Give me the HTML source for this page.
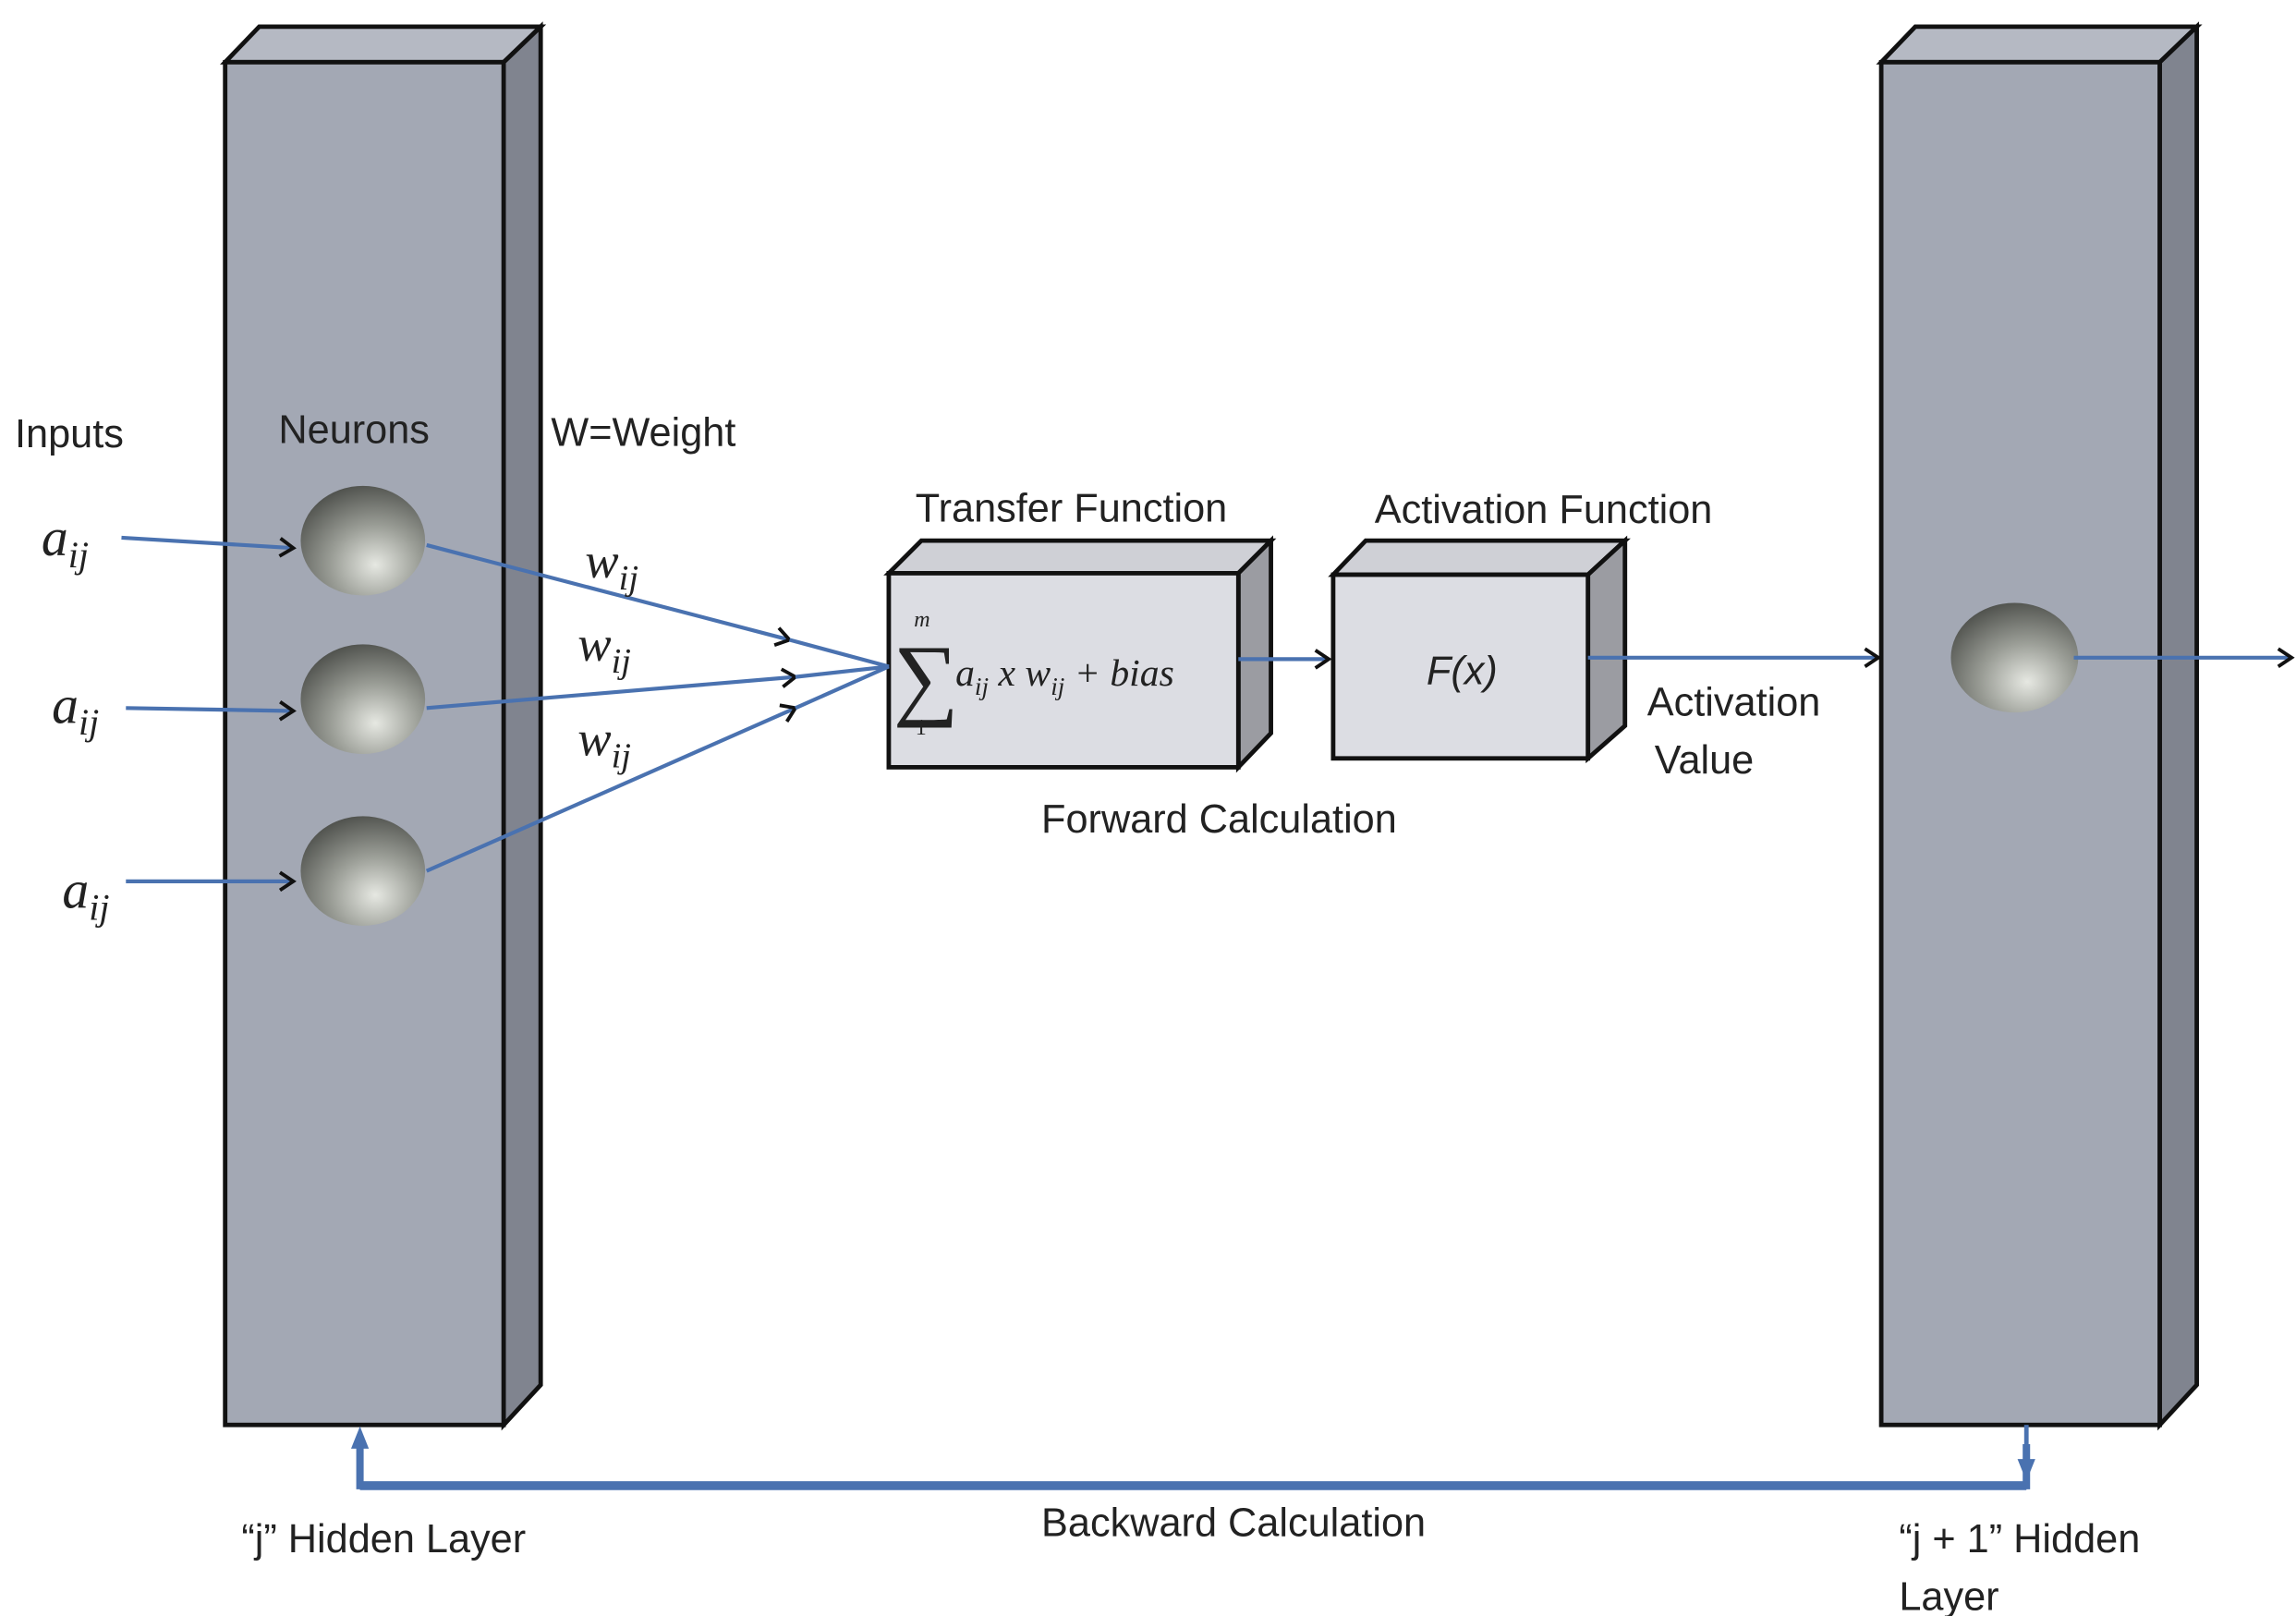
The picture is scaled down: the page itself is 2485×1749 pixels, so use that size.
<!DOCTYPE html>
<html><head><meta charset="utf-8"><style>
html,body{margin:0;padding:0;background:#fff;}
svg{display:block;}
text{font-family:"Liberation Sans",sans-serif;fill:#222;}
.m{font-family:"Liberation Serif",serif;font-style:italic;}
</style></head><body>
<svg width="2485" height="1749" viewBox="0 0 1550 1091" preserveAspectRatio="none" xmlns="http://www.w3.org/2000/svg">
<defs>
<radialGradient id="g" cx="0.6" cy="0.72" r="0.8">
<stop offset="0" stop-color="#e6e8e2"/><stop offset="0.45" stop-color="#9a9d96"/><stop offset="1" stop-color="#454743"/>
</radialGradient>
<marker id="ah" markerWidth="14" markerHeight="14" refX="11" refY="7" orient="auto" markerUnits="userSpaceOnUse">
<path d="M2,1 L11,7 L2,13" fill="none" stroke="#111" stroke-width="2.4"/>
</marker>
</defs>
<polygon points="152,42 175,18 365,18 340,42" fill="#b5b9c3" stroke="#111" stroke-width="3"/>
<polygon points="340,42 365,18 365,935 340,962" fill="#80848f" stroke="#111" stroke-width="3"/>
<rect x="152" y="42" width="188" height="920" fill="#a3a8b4" stroke="#111" stroke-width="3"/>
<polygon points="1270,42 1293,18 1483,18 1458,42" fill="#b5b9c3" stroke="#111" stroke-width="3"/>
<polygon points="1458,42 1483,18 1483,935 1458,962" fill="#80848f" stroke="#111" stroke-width="3"/>
<rect x="1270" y="42" width="188" height="920" fill="#a3a8b4" stroke="#111" stroke-width="3"/>
<polygon points="600,387 622,365 858,365 836,387" fill="#cfd0d6" stroke="#111" stroke-width="3"/>
<polygon points="836,387 858,365 858,495 836,518" fill="#9b9ca2" stroke="#111" stroke-width="3"/>
<rect x="600" y="387" width="236" height="131" fill="#dcdde3" stroke="#111" stroke-width="3"/>
<polygon points="900,388 922,365 1097,365 1072,388" fill="#cfd0d6" stroke="#111" stroke-width="3"/>
<polygon points="1072,388 1097,365 1097,490 1072,512" fill="#9b9ca2" stroke="#111" stroke-width="3"/>
<rect x="900" y="388" width="172" height="124" fill="#dcdde3" stroke="#111" stroke-width="3"/>
<ellipse cx="245" cy="365" rx="42" ry="37" fill="url(#g)"/>
<ellipse cx="245" cy="472" rx="42" ry="37" fill="url(#g)"/>
<ellipse cx="245" cy="588" rx="42" ry="37" fill="url(#g)"/>
<ellipse cx="1360" cy="444" rx="43" ry="37" fill="url(#g)"/>
<g stroke="#4a72b0" stroke-width="2.6" fill="none">
<line x1="82" y1="363" x2="198" y2="370" marker-end="url(#ah)"/>
<line x1="85" y1="478" x2="198" y2="480" marker-end="url(#ah)"/>
<line x1="85" y1="595" x2="198" y2="595" marker-end="url(#ah)"/>
<line x1="288" y1="368" x2="533" y2="432" marker-end="url(#ah)"/>
<line x1="288" y1="478" x2="537" y2="457" marker-end="url(#ah)"/>
<line x1="288" y1="588" x2="537" y2="478" marker-end="url(#ah)"/>
<polyline points="533,432 600,450 537,457"/>
<line x1="537" y1="478" x2="600" y2="450"/>
<line x1="836" y1="445" x2="897" y2="445" marker-end="url(#ah)"/>
<line x1="1072" y1="444" x2="1268" y2="444" marker-end="url(#ah)"/>
<line x1="1400" y1="444" x2="1547" y2="444" marker-end="url(#ah)"/>
</g>
<g stroke="#4a72b0" fill="#4a72b0">
<polyline points="243,975 243,1003 1368,1003 1368,975" fill="none" stroke-width="5"/>
<polyline points="243,1003 1368,1003" fill="none" stroke-width="6"/>
<polygon points="243,963 237,978 249,978" stroke="none"/>
<polygon points="1368,1000 1362,985 1374,985" stroke="none"/>
<line x1="1368" y1="962" x2="1368" y2="988" stroke-width="3"/>
</g>
<text x="10" y="302" font-size="27">Inputs</text>
<text x="188" y="299" font-size="27">Neurons</text>
<text x="372" y="301" font-size="27">W=Weight</text>
<text class="m" x="28" y="375" font-size="36">a<tspan font-size="25" dy="8">ij</tspan></text>
<text class="m" x="35" y="488" font-size="36">a<tspan font-size="25" dy="8">ij</tspan></text>
<text class="m" x="42" y="613" font-size="36">a<tspan font-size="25" dy="8">ij</tspan></text>
<text class="m" x="395" y="390" font-size="34">w<tspan font-size="24" dy="8">ij</tspan></text>
<text class="m" x="390" y="446" font-size="34">w<tspan font-size="24" dy="8">ij</tspan></text>
<text class="m" x="390" y="510" font-size="34">w<tspan font-size="24" dy="8">ij</tspan></text>
<text x="618" y="352" font-size="27">Transfer Function</text>
<text x="928" y="353" font-size="27">Activation Function</text>
<text class="m" x="617" y="423" font-size="15">m</text>
<text x="603" y="478" font-size="62" style="font-family:'Liberation Serif',serif">∑</text>
<text x="618" y="496" font-size="15" style="font-family:'Liberation Serif',serif">1</text>
<text class="m" x="645" y="463" font-size="26">a<tspan font-size="17" dy="6">ij</tspan><tspan dy="-6"> x w</tspan><tspan font-size="17" dy="6">ij</tspan><tspan dy="-6">  + bias</tspan></text>
<text x="963" y="462" font-size="27" font-style="italic">F(x)</text>
<text x="1112" y="483" font-size="27">Activation</text>
<text x="1117" y="522" font-size="27">Value</text>
<text x="703" y="562" font-size="27">Forward Calculation</text>
<text x="163" y="1048" font-size="27">“j” Hidden Layer</text>
<text x="703" y="1037" font-size="27">Backward Calculation</text>
<text x="1282" y="1048" font-size="27">“j + 1” Hidden</text>
<text x="1282" y="1087" font-size="27">Layer</text>
</svg>
</body></html>
